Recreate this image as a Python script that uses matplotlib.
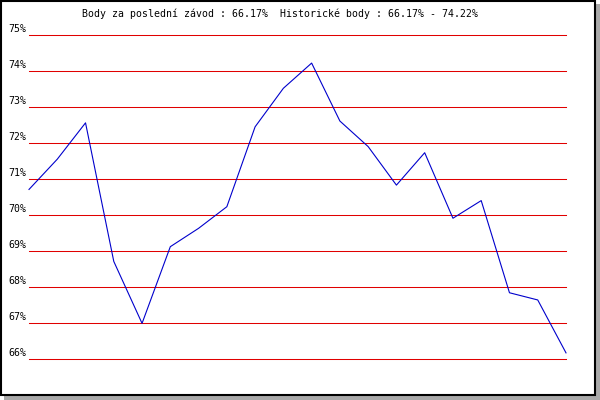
import matplotlib
matplotlib.use("Agg")
import matplotlib.pyplot as plt
from matplotlib.patches import Rectangle

# points per race
races = list(range(1, 21))
points = [70.71, 71.55, 72.56, 68.71, 66.99, 69.12, 69.63, 70.23, 72.45, 73.52,
          74.22, 72.61, 71.90, 70.83, 71.73, 69.91, 70.40, 67.84, 67.64, 66.17]
levels = [66, 67, 68, 69, 70, 71, 72, 73, 74, 75]
title = "Body za poslední závod : 66.17%  Historické body : 66.17% - 74.22%"

W, H = 600, 400
fig = plt.figure(figsize=(W / 100, H / 100), dpi=100)
fig.patch.set_facecolor("white")

# shadow + black frame
fig.patches.append(Rectangle((4 / W, 0), 596 / W, 396 / H, transform=fig.transFigure,
                             facecolor="#a9a9a9", edgecolor="none", zorder=0))
fig.patches.append(Rectangle((1 / W, 5 / H), 594 / W, 394 / H, transform=fig.transFigure,
                             facecolor="white", edgecolor="black", linewidth=1.5, zorder=1))

# plot area: x 29..566 px, y 35..359 px from top
ax = fig.add_axes([29 / W, (H - 359) / H, (566 - 29) / W, (359 - 35) / H])
ax.set_zorder(5)
ax.set_facecolor("none")
ax.set_xlim(races[0], races[-1])
ax.set_ylim(levels[0], levels[-1])
for s in ax.spines.values():
    s.set_visible(False)
ax.set_xticks([])
ax.set_yticks([])

for lv in levels:
    ax.axhline(lv, color="#e00000", linewidth=0.75, zorder=1, clip_on=False)
    ax.annotate(f"{lv}%", xy=(0, lv), xycoords=("axes fraction", "data"),
                xytext=(-3, 1), textcoords="offset pixels", ha="right", va="bottom",
                fontsize=7.1, family="DejaVu Sans Mono", color="black")

ax.plot(races, points, color="#0000cc", linewidth=0.8, zorder=2, clip_on=False)

fig.text(280 / W, 1 - 14 / H, title, ha="center", va="center", zorder=6,
         fontsize=7.1, family="DejaVu Sans Mono", color="black")

fig.savefig("out.png", dpi=100)
plt.close(fig)
